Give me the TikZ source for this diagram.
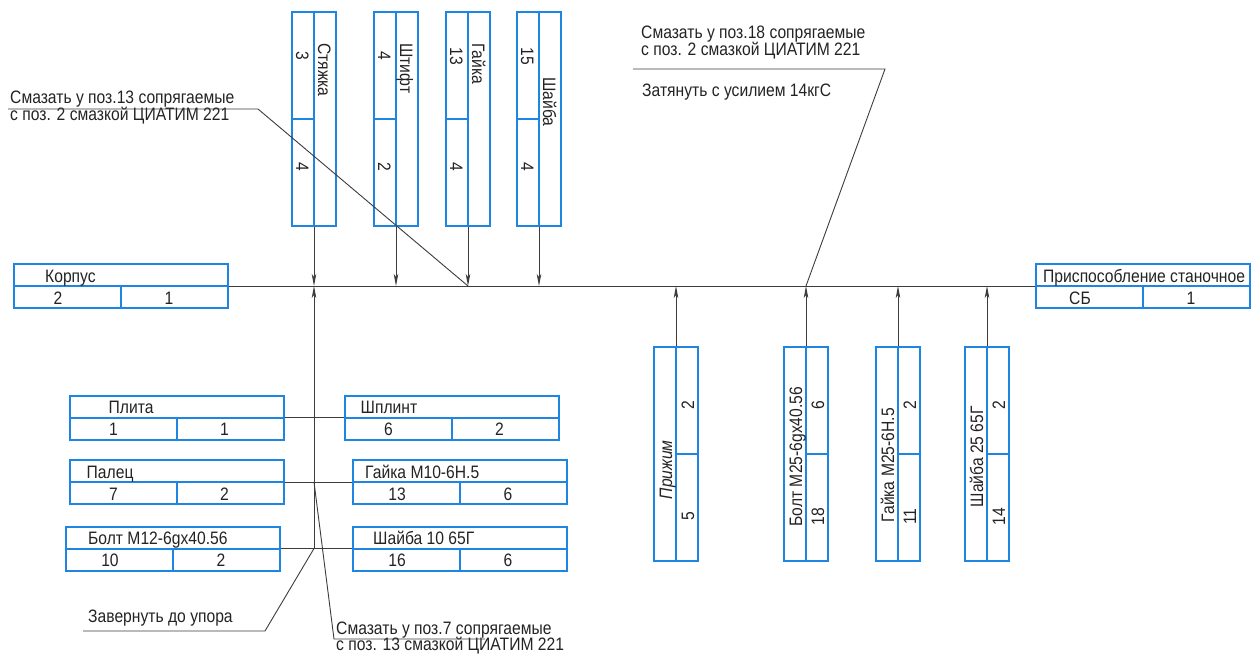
\documentclass[tikz,border=0pt]{standalone}
\usepackage{fontspec}
\setmainfont{Liberation Sans}[FakeStretch=0.87]
\usepackage{tikz}
\usetikzlibrary{arrows.meta, calc}
\definecolor{boxblue}{RGB}{30,134,226}
\definecolor{leadgray}{RGB}{60,60,60}
\definecolor{inkgray}{RGB}{35,35,35}
\newcommand{\gostfont}{\fontsize{18}{17}\selectfont}
\tikzset{
    boxframe/.style={rectangle, draw=boxblue, line width=2pt, minimum width=214pt,
        minimum height=44pt, inner sep=0pt},
    boxline/.style={draw=boxblue, line width=2pt},
    boxtext/.style={font=\gostfont, text=inkgray, inner sep=0pt},
    note/.style={font=\gostfont, text=inkgray, inner sep=0pt, anchor=base west},
    thinline/.style={draw=leadgray, line width=0.9pt},
    arrow/.style={thinline, -{Stealth[length=12pt, width=4.5pt, inset=3pt]}},
    pics/specbox/.style n args={4}{code={
        \node[boxframe] (-box) at (0,0) {};
        \draw[boxline] (-107,0) -- (107,0);
        \draw[boxline] (0,0) -- (0,22);
        \node[boxtext, anchor=base west] (-name) at (-107+#1,-4) {#2};
        \node[boxtext, anchor=base] (-pos) at (-63,18) {#3};
        \node[boxtext, anchor=base] (-qty) at (48,18) {#4};
    }}
}

\begin{document}
\begin{tikzpicture}[x=1pt, y=-1pt]
\useasboundingbox (0,0) rectangle (1251,654);

\pic (korpus) at (121,286) {specbox={31}{Корпус}{2}{1}};
\pic (prisp) at (1143,286) {specbox={7}{Приспособление станочное}{СБ}{1}};

\pic[rotate=-90, transform shape] (styazhka) at (314,119) {specbox={31}{Стяжка}{3}{4}};
\pic[rotate=-90, transform shape] (shtift) at (396,119) {specbox={31}{Штифт}{4}{2}};
\pic[rotate=-90, transform shape] (gaika) at (468,119) {specbox={31}{Гайка}{13}{4}};
\pic[rotate=-90, transform shape] (shayba) at (539,119) {specbox={65}{Шайба}{15}{4}};

\pic[rotate=90, transform shape] (prizhim) at (676,453.5) {specbox={61}{\itshape Прижим}{5}{2}};
\pic[rotate=90, transform shape] (boltbig) at (806,453.5) {specbox={34}{Болт M25-6gx40.56}{18}{6}};
\pic[rotate=90, transform shape] (gaikabig) at (898,453.5) {specbox={38}{Гайка M25-6H.5}{11}{2}};
\pic[rotate=90, transform shape] (shaybabig) at (987,453.5) {specbox={53}{Шайба 25 65Г}{14}{2}};

\pic (plita) at (176.5,417.5) {specbox={39}{Плита}{1}{1}};
\pic (shplint) at (451.5,417.5) {specbox={16}{Шплинт}{6}{2}};
\pic (palets) at (176.5,482) {specbox={17}{Палец}{7}{2}};
\pic (gaikasmall) at (460,482) {specbox={12}{Гайка M10-6H.5}{13}{6}};
\pic (boltsmall) at (173,548.5) {specbox={22}{Болт M12-6gx40.56}{10}{2}};
\pic (shaybasmall) at (460,548.5) {specbox={20}{Шайба 10 65Г}{16}{6}};

\draw[thinline] (korpus-box.east) -- (prisp-box.west);
\foreach \part in {styazhka,shtift,gaika,shayba,prizhim,boltbig,gaikabig,shaybabig}
    \draw[arrow] (\part-box.east) -- (\part-box.east |- korpus-box.east);

\coordinate (jlow) at (styazhka-box.east |- boltsmall-box.east);
\coordinate (jmid) at (styazhka-box.east |- palets-box.east);
\draw[arrow] (jlow) -- (styazhka-box.east |- korpus-box.east);
\draw[thinline] (plita-box.east) -- (shplint-box.west);
\draw[thinline] (palets-box.east) -- (gaikasmall-box.west);
\draw[thinline] (boltsmall-box.east) -- (shaybasmall-box.west);

\node[note] (lub13a) at (10,103) {Смазать у поз.13 сопрягаемые};
\node[note] (lub13b) at (10,120) {с поз. 2 смазкой ЦИАТИМ 221};
\coordinate (lub13s) at (8,109);
\coordinate (lub13k) at (258,109);
\draw[thinline] (lub13s) -- (lub13k) -- (gaika-box.east |- korpus-box.east);

\node[note] (lub18a) at (641,38) {Смазать у поз.18 сопрягаемые};
\node[note] (lub18b) at (641,55) {с поз. 2 смазкой ЦИАТИМ 221};
\node[note] (tight) at (642,96) {Затянуть с усилием 14кгС};
\coordinate (lub18s) at (633,69);
\coordinate (lub18k) at (885,69);
\draw[thinline] (lub18s) -- (lub18k) -- (boltbig-box.east |- korpus-box.east);

\node[note] (screw) at (88,622) {Завернуть до упора};
\coordinate (screws) at (83,631);
\coordinate (screwk) at (265,631);
\draw[thinline] (screws) -- (screwk) -- (jlow);

\node[note] (lub7a) at (336,634) {Смазать у поз.7 сопрягаемые};
\node[note] (lub7b) at (336,650) {с поз. 13 смазкой ЦИАТИМ 221};
\coordinate (lub7k) at (334,639);
\coordinate (lub7e) at (485,639);
\draw[thinline] (jmid) -- (lub7k) -- (lub7e);
\end{tikzpicture}
\end{document}
